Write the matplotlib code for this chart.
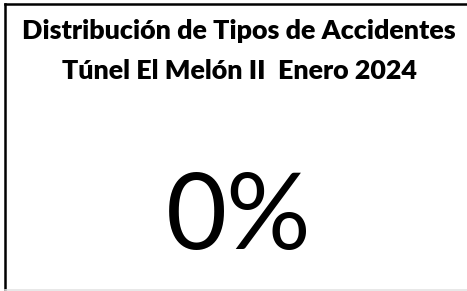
import matplotlib
matplotlib.use("Agg")
import matplotlib.pyplot as plt
from matplotlib.lines import Line2D

title_lines = ["Distribución de Tipos de Accidentes", "Túnel El Melón II  Enero 2024"]
categories = ["Sin accidentes"]
shares = [0.0]

W, H = 467, 291
fig = plt.figure(figsize=(W / 100, H / 100), dpi=100)
ax = fig.add_axes([0, 0, 1, 1])
ax.set_xlim(0, W)
ax.set_ylim(H, 0)
ax.axis("off")

# frame: dark top and left edges, faint bottom edge
ax.add_line(Line2D([4.5, W], [3.5, 3.5], color="black", lw=1.8))
ax.add_line(Line2D([4.5, 4.5], [3.5, H], color="black", lw=1.8))
ax.add_line(Line2D([4.5, W], [289.5, 289.5], color="#e4e4e4", lw=1.2))

ax.text(239, 31, title_lines[0], ha="center", va="center",
        fontsize=19.4, fontweight="heavy", family="Lato")
ax.text(239, 71, title_lines[1], ha="center", va="center",
        fontsize=19.4, fontweight="heavy", family="Lato")

ax.text(239, 219, f"{shares[0]:.0%}", ha="center", va="center",
        fontsize=76, family="Lato")

fig.savefig("out.png", dpi=100)
